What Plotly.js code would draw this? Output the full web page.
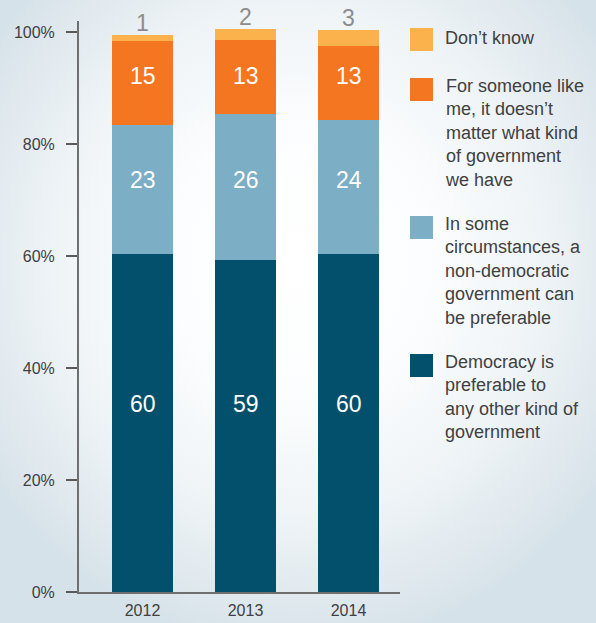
<!DOCTYPE html>
<html>
<head>
<meta charset="utf-8">
<script src="https://cdn.plot.ly/plotly-3.0.1.min.js"></script>
<style>
  html, body { margin: 0; padding: 0; }
  body {
    width: 596px; height: 623px; overflow: hidden;
    background: radial-gradient(ellipse 62% 62% at 50% 42%, #ffffff 0%, #fcfdfe 35%, #eff4f7 65%, #e2eaef 85%, #d6e2e9 100%);
  }
  #chart { width: 596px; height: 623px; }
</style>
</head>
<body>
<div id="chart"></div>
<script>
// ---- data ----
const years = ['2012', '2013', '2014'];
const democracyPreferable = [60.4, 59.3, 60.4];
const nonDemocraticPreferable = [23.0, 26.1, 23.9];
const doesntMatter = [15.0, 13.2, 13.3];
const dontKnow = [1.1, 2.0, 2.8];

const seriesNames = [
  'Democracy is<br>preferable to<br>any other kind of<br>government',
  'In some<br>circumstances, a<br>non-democratic<br>government can<br>be preferable',
  'For someone like<br>me, it doesn’t<br>matter what kind<br>of government<br>we have',
  'Don’t know'
];
const seriesColors = ['#02506b', '#7caec6', '#f47621', '#fbb14c'];
const yTickVals = [0, 20, 40, 60, 80, 100];
const yTickText = ['0%', '20%', '40%', '60%', '80%', '100%'];

// ---- layout geometry ----
const FONT = '"Liberation Sans", Arial, sans-serif';
const W = 596, H = 623;
const M = { l: 79, r: 196, t: 21, b: 31 };
const plotW = W - M.l - M.r, plotH = H - M.t - M.b;
const px2x = px => (px - M.l) / plotW;
const py2y = py => (H - M.b - py) / plotH;
const LABEL_FRAC = 0.56;

const xs = years.map((_, i) => i);
const allSeries = [democracyPreferable, nonDemocraticPreferable, doesntMatter, dontKnow];

const traces = allSeries.map((vals, k) => ({
  type: 'bar',
  x: xs,
  y: vals,
  name: seriesNames[k],
  marker: { color: seriesColors[k], line: { width: 0 } },
  width: 0.592,
  hoverinfo: 'skip'
}));

const annotations = [];
// value labels inside segments (same height for a series across years)
for (let k = 0; k < 3; k++) {
  const ys = xs.map(i => {
    let base = 0;
    for (let j = 0; j < k; j++) base += allSeries[j][i];
    return base + allSeries[k][i] * LABEL_FRAC;
  });
  const yLab = ys.reduce((a, b) => a + b, 0) / ys.length;
  xs.forEach(i => {
    annotations.push({
      x: i, y: yLab, xref: 'x', yref: 'y',
      text: String(Math.round(allSeries[k][i])),
      showarrow: false, yanchor: 'middle',
      font: { family: FONT, size: 23, color: '#ffffff' }
    });
  });
}
// top labels (don't know values) above stacks
xs.forEach(i => {
  const total = allSeries.reduce((s, arr) => s + arr[i], 0);
  annotations.push({
    x: i, y: total, xref: 'x', yref: 'y',
    text: String(Math.round(dontKnow[i])),
    showarrow: false, yanchor: 'bottom', yshift: -3,
    font: { family: FONT, size: 23, color: '#8c8c8c' }
  });
});

// custom legend
const shapes = [];
const legendTops = [354, 216, 78, 28];
seriesNames.forEach((name, k) => {
  const top = legendTops[k];
  shapes.push({
    type: 'rect', xref: 'paper', yref: 'paper',
    x0: px2x(410), x1: px2x(433), y0: py2y(top + 23), y1: py2y(top),
    fillcolor: seriesColors[k], line: { width: 0 }
  });
  annotations.push({
    xref: 'paper', yref: 'paper',
    x: px2x(443), y: py2y(top - (k === 3 ? 2 : 4)),
    xanchor: 'left', yanchor: 'top', align: 'left',
    text: name, showarrow: false,
    font: { family: FONT, size: 18, color: '#404040' }
  });
});

const layout = {
  width: W, height: H,
  margin: M,
  paper_bgcolor: 'rgba(0,0,0,0)',
  plot_bgcolor: 'rgba(0,0,0,0)',
  barmode: 'stack',
  showlegend: false,
  font: { family: FONT, color: '#404040' },
  xaxis: {
    range: [-0.6165, 2.5],
    tickvals: xs, ticktext: years,
    ticks: '', showgrid: false, zeroline: false,
    showline: true, linecolor: '#6f6f6f', linewidth: 2,
    tickfont: { family: FONT, size: 16, color: '#404040' },
    ticklabelstandoff: 3,
    fixedrange: true
  },
  yaxis: {
    range: [0, 102],
    tickvals: yTickVals, ticktext: yTickText,
    ticks: 'outside', ticklen: 11, tickwidth: 2, tickcolor: '#5a5a5a',
    showgrid: false, zeroline: false,
    showline: true, linecolor: '#6f6f6f', linewidth: 2,
    tickfont: { family: FONT, size: 16, color: '#404040' },
    ticklabelstandoff: 8,
    fixedrange: true
  },
  annotations: annotations,
  shapes: shapes
};

Plotly.newPlot('chart', traces, layout, { displayModeBar: false, staticPlot: true });
</script>
</body>
</html>
